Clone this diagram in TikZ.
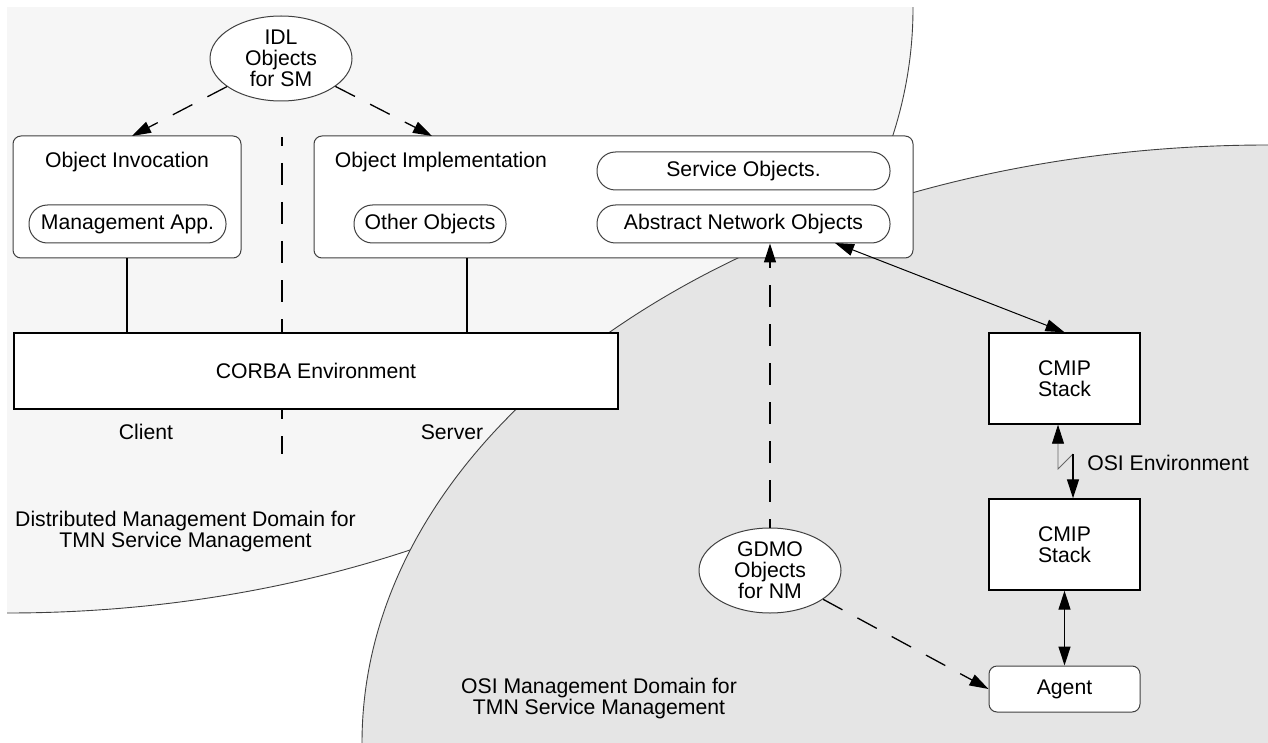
\documentclass[tikz,border=0pt]{standalone}
\usepackage{fontspec}
\setmainfont{Liberation Sans}
\usetikzlibrary{arrows.meta,shapes.geometric,calc}
\definecolor{domainA}{HTML}{F6F6F6}
\definecolor{domainB}{HTML}{E5E5E5}
\definecolor{edge}{HTML}{404040}
\tikzset{
  txt/.style={font=\fontsize{21.2}{21}\selectfont, inner sep=0pt, align=center},
  rbox/.style={draw=edge, line width=1pt, fill=white, rounded corners=8pt, inner sep=0pt},
  pill/.style={rbox, rounded corners=18.5pt, minimum height=38pt, txt},
  sbox/.style={draw=black, line width=1.4pt, fill=white, inner sep=0pt, txt},
  oval/.style={ellipse, draw=edge, line width=1pt, fill=white, minimum width=142pt,
               minimum height=85pt, inner sep=0pt, txt},
  link/.style={line width=1.3pt},
  dlink/.style={line width=1.3pt, dash pattern=on 22pt off 17pt},
  tip/.style={-{Triangle[length=19pt,width=12pt]}},
  tips/.style={{Triangle[length=19pt,width=12pt]}-{Triangle[length=19pt,width=12pt]}},
  rim/.style={draw=edge, line width=0.9pt},
}
\begin{document}
\begin{tikzpicture}[x=1pt,y=-1pt]
\useasboundingbox (0,0) rectangle (1268,743);
\fill[white] (0,0) rectangle (1268,743);

% distributed management domain (upper left)
\begin{scope}
  \clip (7,8) rectangle (1268,743);
  \fill[domainA] (7,8) ellipse [x radius=906pt, y radius=605pt];
  \draw[rim] (7,8) ellipse [x radius=906pt, y radius=605pt];
\end{scope}
% OSI management domain (lower right)
\begin{scope}
  \clip (0,0) rectangle (1268,743);
  \fill[domainB] (1268,743) ellipse [x radius=906pt, y radius=598pt];
  \draw[rim] (1268,743) ellipse [x radius=906pt, y radius=598pt];
\end{scope}

% client / server divider
\coordinate (divTop) at (282,137);
\coordinate (divBot) at (282,454);
\draw[dlink, dash phase=13pt] (divTop) -- (divBot);

% CORBA side
\node[oval] (idl) at (281,58.5) {IDL\\Objects\\for SM};
\node[rbox, minimum width=228pt, minimum height=122pt] (oinv) at (127,197) {};
\node[txt] (oinvT) at (127,162) {Object Invocation};
\node[pill, minimum width=197pt] (mapp) at (127.5,224) {Management App.};

\node[rbox, minimum width=599pt, minimum height=122pt] (oimp) at (613.5,197) {};
\node[txt] (oimpT) at (441,162) {Object Implementation};
\node[pill, minimum width=293pt] (svc) at (743.5,171) {Service Objects.};
\node[pill, minimum width=293pt] (ano) at (743.5,224) {Abstract Network Objects};
\node[pill, minimum width=152pt] (oth) at (430,224) {Other Objects};

\node[sbox, minimum width=604pt, minimum height=76pt] (corba) at (316,371) {CORBA Environment};
\node[txt] (client) at (146,432) {Client};
\node[txt] (server) at (452,432) {Server};
\node[txt] (dmd) at (185.5,532) {Distributed Management Domain for\\TMN Service Management};

% OSI side
\node[sbox, minimum width=151pt, minimum height=91pt] (cmip1) at (1064.5,378.5) {CMIP\\Stack};
\node[sbox, minimum width=151pt, minimum height=91pt] (cmip2) at (1064.5,544.5) {CMIP\\Stack};
\node[rbox, txt, minimum width=151pt, minimum height=46pt] (agent) at (1064.5,689) {Agent};
\node[oval] (gdmo) at (770,570.5) {GDMO\\Objects\\for NM};
\node[txt] (osienv) at (1168,462.5) {OSI Environment};
\node[txt] (omd) at (599,699) {OSI Management Domain for\\TMN Service Management};

% connectors
\coordinate (oinvTip) at (132,136);
\coordinate (oimpTip) at (432,136);
\draw[dlink, tip] (idl) -- (oinvTip);
\draw[dlink, tip] (idl) -- (oimpTip);

\draw[link] (oinv.south) -- (oinv.south |- corba.north);
\coordinate (srvTap) at (467,258);
\draw[link] (srvTap) -- (srvTap |- corba.north);

\coordinate (anoTap) at (835,243);
\draw[line width=1pt, tips] (anoTap) -- (cmip1.north);

\coordinate (zA) at (1058,469);
\coordinate (zB) at (1073,454);
\draw[line width=0.8pt, draw=gray!80!black, {Triangle[length=19pt,width=12pt,color=black]}-]
  (zA |- cmip1.south) -- (zA) -- (zB);
\draw[link, tip] (zB) -- (zB |- cmip2.north);

\draw[link, tips] (cmip2.south) -- (agent.north);

\draw[dlink, dash phase=13pt, tip] (gdmo.north) -- (gdmo.north |- ano.south);
\draw[dlink, tip] (gdmo) -- (agent.west);
\end{tikzpicture}
\end{document}
